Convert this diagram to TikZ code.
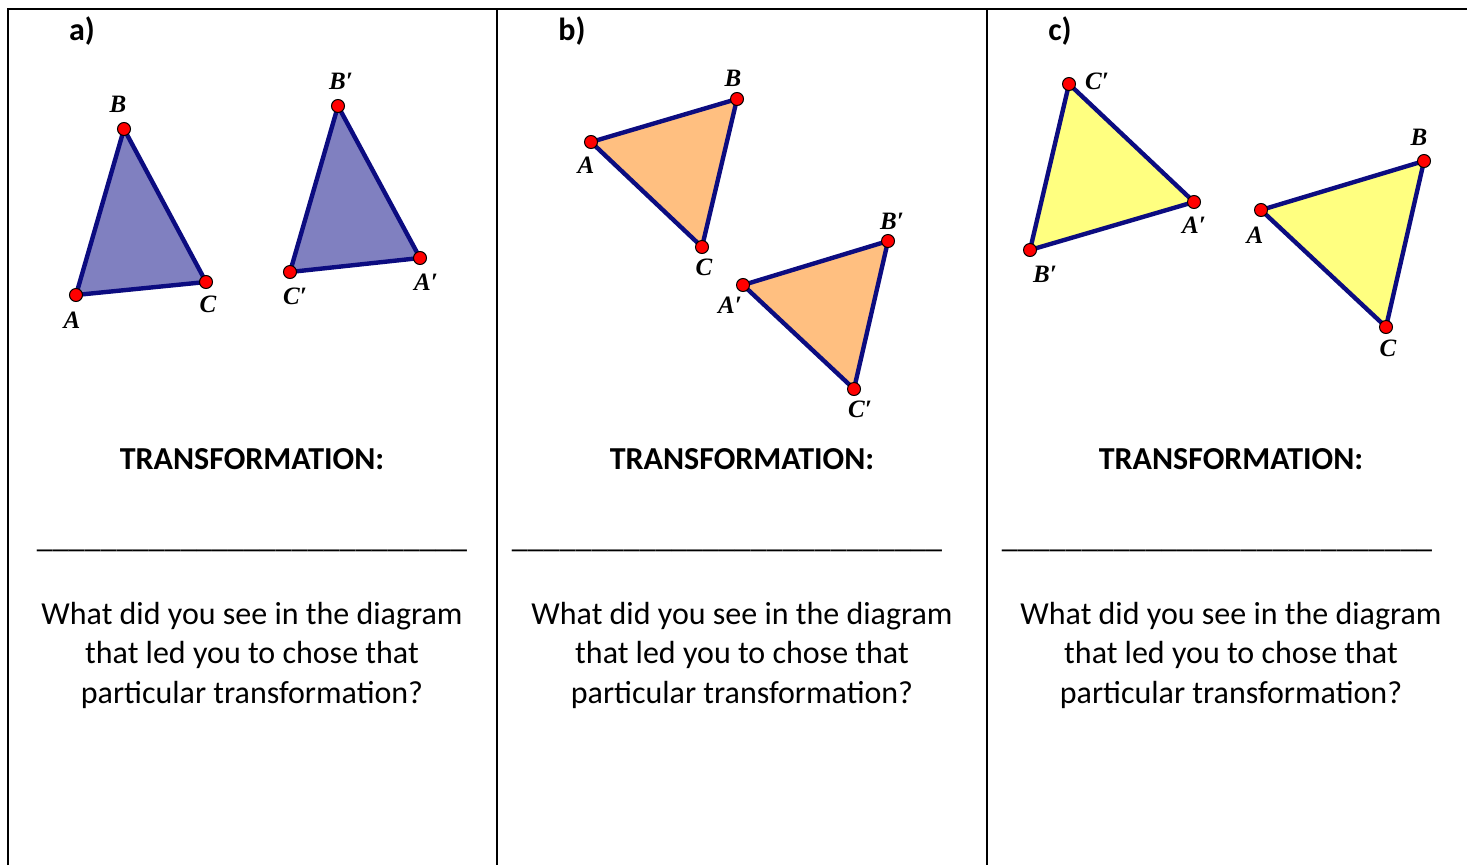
\documentclass[tikz,border=0pt]{standalone}
\usepackage{fontspec}
\setmainfont{Carlito}
\newfontfamily\labelfont{Liberation Serif}
\usetikzlibrary{positioning}
\definecolor{edgenavy}{HTML}{0C0C80}
\definecolor{fillblue}{HTML}{8080C0}
\definecolor{fillpeach}{HTML}{FFBF80}
\definecolor{fillyellow}{HTML}{FFFF80}

\begin{document}
\begin{tikzpicture}[x=1pt, y=-1pt]
        \tikzset{
            frame/.style={draw=black, line width=2pt},
            side/.style={draw=edgenavy, line width=4.4pt, line join=round},
            vertex/.style={fill=red, draw=black, line width=1pt},
            vlabel/.style={font=\labelfont\bfseries\itshape\fontsize{25}{25}\selectfont, inner sep=0pt},
            part/.style={font=\bfseries\fontsize{32}{34}\selectfont, inner sep=0pt},
            heading/.style={font=\bfseries\fontsize{32}{36}\selectfont, inner sep=0pt},
            blank/.style={font=\fontsize{32}{36}\selectfont, inner sep=0pt},
            question/.style={
                font=\fontsize{32}{39.5}\selectfont,
                align=center,
                inner sep=0pt
            }
        }

        \useasboundingbox (0,0) rectangle (1467,865);

        % table lines
        \draw[frame] (8,865) -- (8,9) -- (1467,9);
        \draw[frame] (497,9) -- (497,865);
        \draw[frame] (987,9) -- (987,865);

        % a)
        \node[part] (parta) at (82,31) {a)};
        \coordinate (aA) at (76,295);
        \coordinate (aB) at (124,129);
        \coordinate (aC) at (206,282);
        \coordinate (aA2) at (420,258);
        \coordinate (aB2) at (338,106);
        \coordinate (aC2) at (290,272);
        \filldraw[side, fill=fillblue] (aA) -- (aB) -- (aC) -- cycle;
        \filldraw[side, fill=fillblue] (aA2) -- (aB2) -- (aC2) -- cycle;
        \foreach \p in {aA,aB,aC,aA2,aB2,aC2}
            \draw[vertex] (\p) circle[radius=6.5pt];
        \node[vlabel] (laA) at (72,320) {A};
        \node[vlabel] (laB) at (118,104) {B};
        \node[vlabel] (laC) at (208,304) {C};
        \node[vlabel] (laA2) at (426,282) {A′};
        \node[vlabel] (laB2) at (341,81) {B′};
        \node[vlabel] (laC2) at (295,296) {C′};

        % b)
        \node[part] (partb) at (572,31) {b)};
        \coordinate (bA) at (591,142);
        \coordinate (bB) at (737,99);
        \coordinate (bC) at (702,247);
        \coordinate (bA2) at (743,285);
        \coordinate (bB2) at (888,241);
        \coordinate (bC2) at (854,389);
        \filldraw[side, fill=fillpeach] (bA) -- (bB) -- (bC) -- cycle;
        \filldraw[side, fill=fillpeach] (bA2) -- (bB2) -- (bC2) -- cycle;
        \foreach \p in {bA,bB,bC,bA2,bB2,bC2}
            \draw[vertex] (\p) circle[radius=6.5pt];
        \node[vlabel] (lbA) at (586,165) {A};
        \node[vlabel] (lbB) at (733,78) {B};
        \node[vlabel] (lbC) at (704,267) {C};
        \node[vlabel] (lbA2) at (730,305) {A′};
        \node[vlabel] (lbB2) at (892,221) {B′};
        \node[vlabel] (lbC2) at (860,409) {C′};

        % c)
        \node[part] (partc) at (1060,31) {c)};
        \coordinate (cA) at (1261,210);
        \coordinate (cB) at (1424,161);
        \coordinate (cC) at (1386,327);
        \coordinate (cA2) at (1194,202);
        \coordinate (cB2) at (1030,250);
        \coordinate (cC2) at (1069,84);
        \filldraw[side, fill=fillyellow] (cA) -- (cB) -- (cC) -- cycle;
        \filldraw[side, fill=fillyellow] (cA2) -- (cB2) -- (cC2) -- cycle;
        \foreach \p in {cA,cB,cC,cA2,cB2,cC2}
            \draw[vertex] (\p) circle[radius=6.5pt];
        \node[vlabel] (lcA) at (1255,235) {A};
        \node[vlabel] (lcB) at (1419,137) {B};
        \node[vlabel] (lcC) at (1388,348) {C};
        \node[vlabel] (lcA2) at (1194,225) {A′};
        \node[vlabel] (lcB2) at (1045,274) {B′};
        \node[vlabel] (lcC2) at (1097,81) {C′};

        % questions
        \foreach \col/\cx/\ux in {a/252/252, b/742/727, c/1231/1217} {
            \node[heading] (head\col) at (\cx,459) {TRANSFORMATION:};
            \node[blank, anchor=north] (blank\col) at (\ux,547)
                {\_\_\_\_\_\_\_\_\_\_\_\_\_\_\_\_\_\_\_\_\_\_\_\_\_\_\_};
            \node[question] (ask\col) at (\cx,655)
                {What did you see in the diagram\\that led you to chose that\\particular transformation?};
        }
\end{tikzpicture}
\end{document}
